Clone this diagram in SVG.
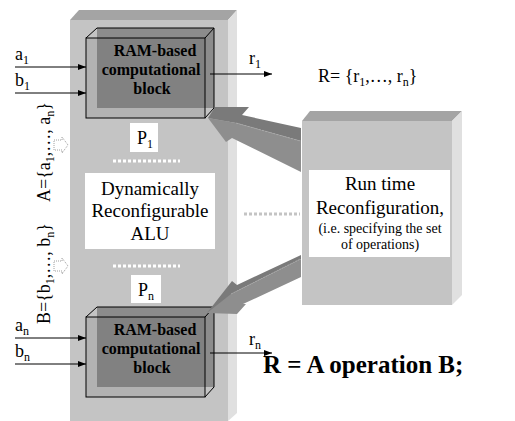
<svg xmlns="http://www.w3.org/2000/svg" width="515" height="421" viewBox="0 0 515 421">
<style>
.t{font-family:"Liberation Serif","Times New Roman",serif;font-size:18px;fill:#000}
.b{font-weight:bold;font-size:16px;text-anchor:middle}
.s{font-size:12px}
.c{text-anchor:middle}
.edge{fill:none;stroke:#000;stroke-width:1}
.front{fill:#c4c4c4}
.top{fill:#a4a4a4}
.side{fill:#e0e0e0}
.lbl{fill:#fff}
.wire{stroke:#000;stroke-width:1;fill:none;marker-end:url(#ah)}
</style>
<defs>
<marker id="ah" viewBox="0 0 8 6" refX="8" refY="3" markerWidth="8" markerHeight="6" markerUnits="userSpaceOnUse" orient="auto">
<path d="M0,0 L8,3 L0,6 z" fill="#000"/>
</marker>
<g id="blk">
<rect x="86" y="38" width="119" height="80" fill="#b2b2b2"/>
<rect x="97" y="28" width="117" height="80" fill="#8c8c8c"/>
<rect x="97" y="38" width="108" height="70" fill="#818181"/>
<rect x="86" y="38" width="119" height="80" class="edge"/>
<path d="M86,38 L97,28 L214,28 L214,108 L205,118 M205,38 L214,28" class="edge"/>
</g>
</defs>
<rect width="515" height="421" fill="#fff"/>

<g id="alu">
<polygon class="top" points="70,20 79,10 237,10 228,20"/>
<polygon class="side" points="228,20 237,10 237,413 228,421"/>
<rect class="front" x="70" y="20" width="158" height="401"/>
<rect class="lbl" x="130" y="123" width="28" height="29"/>
<text class="t" x="137" y="144">P<tspan class="s" dy="4">1</tspan></text>
<line x1="113" y1="161" x2="180" y2="161" stroke="#fff" stroke-width="3" stroke-dasharray="3,2"/>
<rect class="lbl" x="85" y="173" width="130" height="76"/>
<text class="t c" x="150" y="195" style="font-size:19px">Dynamically</text>
<text class="t c" x="150" y="217" style="font-size:19px">Reconfigurable</text>
<text class="t c" x="150" y="240" style="font-size:19px">ALU</text>
<line x1="113" y1="266" x2="180" y2="266" stroke="#fff" stroke-width="3" stroke-dasharray="3,2"/>
<rect class="lbl" x="131" y="275" width="30" height="28"/>
<text class="t" x="138" y="296">P<tspan class="s" dy="4">n</tspan></text>
</g>

<g id="block1">
<use href="#blk"/>
<text class="t b" x="155" y="56">RAM-based</text>
<text class="t b" x="151" y="75">computational</text>
<text class="t b" x="152" y="94">block</text>
</g>

<g id="blockn">
<use href="#blk" transform="translate(0,279)"/>
<text class="t b" x="155" y="335">RAM-based</text>
<text class="t b" x="151" y="354">computational</text>
<text class="t b" x="152" y="373">block</text>
</g>

<g id="runtime">
<polygon class="top" points="302,121 310,111 462,111 452,121"/>
<polygon class="side" points="452,121 462,111 462,295 452,305"/>
<rect class="front" x="302" y="121" width="150" height="184"/>
<rect class="lbl" x="309" y="170" width="141" height="87"/>
<text class="t c" x="380" y="190" style="font-size:19px">Run time</text>
<text class="t c" x="380" y="214" style="font-size:19px">Reconfiguration,</text>
<text class="t c" x="380" y="233" style="font-size:14px">(i.e. specifying the set</text>
<text class="t c" x="380" y="249" style="font-size:14px">of operations)</text>
</g>

<g id="connectors">
<line class="wire" x1="15" y1="67" x2="86" y2="67"/>
<line class="wire" x1="15" y1="93" x2="86" y2="93"/>
<line class="wire" x1="15" y1="338" x2="86" y2="338"/>
<line class="wire" x1="15" y1="364" x2="86" y2="364"/>
<line class="wire" x1="210" y1="74" x2="272" y2="74"/>
<line class="wire" x1="210" y1="353" x2="272" y2="353"/>
<line x1="244" y1="214" x2="300" y2="214" stroke="#c4c4c4" stroke-width="3" stroke-dasharray="3,2"/>
<g id="arrowUp">
<polygon fill="#8e8e8e" points="208,118 236,123 301,141 301,172 232,138 226,142"/>
<polygon fill="#7a7a7a" points="208,118 215,107 249,107 242,115 301,128 301,141 236,123"/>
<line x1="236" y1="123" x2="300" y2="141" stroke="#b0b0b0" stroke-width="0.6" stroke-dasharray="2,1"/>
</g>
<g id="arrowDown">
<polygon fill="#8e8e8e" points="207,313 237,314 246,304 243,304 301,277 301,259 231,294 233,283"/>
<polygon fill="#7a7a7a" points="207,313 232,281 237,285 301,255 301,259 231,294"/>
<line x1="231" y1="294" x2="300" y2="259" stroke="#b0b0b0" stroke-width="0.6" stroke-dasharray="2,1"/>
</g>
<polygon points="54,140 62,140 62,137 68,145 62,153 62,150 54,150" fill="#fff" stroke="#888" stroke-width="0.8" stroke-dasharray="1,1"/>
<polygon points="54,261 62,261 62,258 68,266 62,274 62,271 54,271" fill="#fff" stroke="#888" stroke-width="0.8" stroke-dasharray="1,1"/>
</g>

<g id="labels">
<text class="t" x="15" y="60">a<tspan class="s" dy="4">1</tspan></text>
<text class="t" x="15" y="86">b<tspan class="s" dy="4">1</tspan></text>
<text class="t" x="15" y="331">a<tspan class="s" dy="4">n</tspan></text>
<text class="t" x="15" y="357">b<tspan class="s" dy="4">n</tspan></text>
<text class="t" x="249" y="64">r<tspan class="s" dy="4">1</tspan></text>
<text class="t" x="249" y="345">r<tspan class="s" dy="4">n</tspan></text>
<text class="t" x="318" y="82">R= {r<tspan class="s" dy="4">1</tspan><tspan dy="-4">,…, r</tspan><tspan class="s" dy="4">n</tspan><tspan dy="-4">}</tspan></text>
<text class="t" transform="translate(50,202) rotate(-90)">A={a<tspan class="s" dy="4">1</tspan><tspan dy="-4">,…, a</tspan><tspan class="s" dy="4">n</tspan><tspan dy="-4">}</tspan></text>
<text class="t" transform="translate(50,324) rotate(-90)">B={b<tspan class="s" dy="4">1</tspan><tspan dy="-4">,…, b</tspan><tspan class="s" dy="4">n</tspan><tspan dy="-4">}</tspan></text>
<text class="t" x="263" y="373" style="font-size:25px;font-weight:bold">R = A operation B;</text>
</g>
</svg>
